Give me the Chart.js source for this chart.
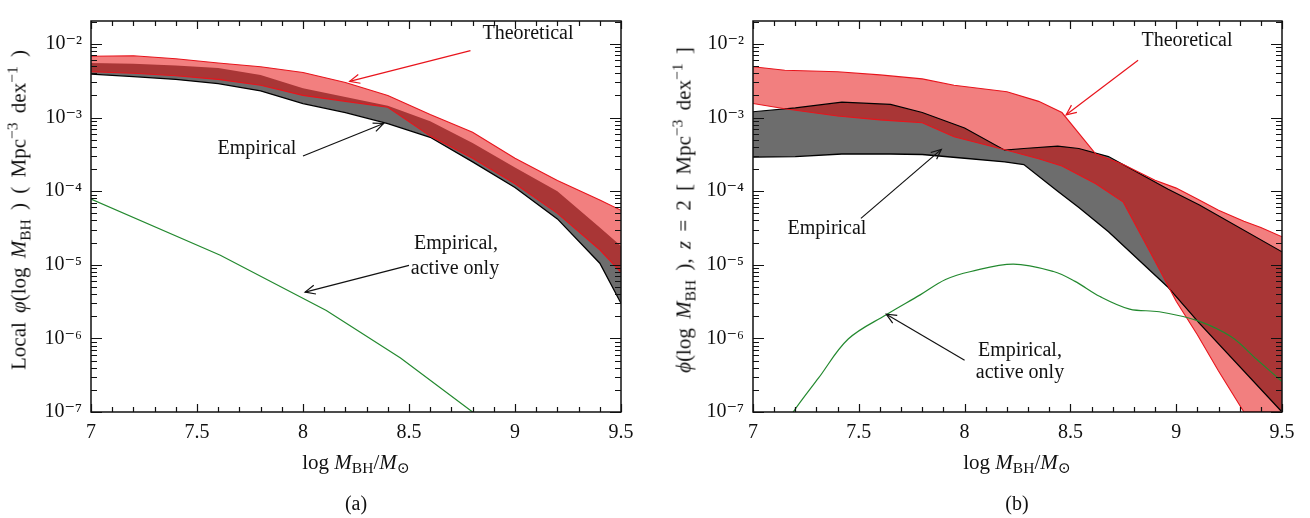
<!DOCTYPE html>
<html><head><meta charset="utf-8">
<script src="https://cdn.jsdelivr.net/npm/chart.js@4.4.0/dist/chart.umd.min.js"></script>
<style>
html,body{margin:0;padding:0;background:#fff;}
body{width:1310px;height:518px;position:relative;overflow:hidden;font-family:"Liberation Serif","DejaVu Serif",serif;color:#111;}
canvas{position:absolute;top:0;}
#ca{left:0;} #cb{left:660px;}
.t{position:absolute;white-space:nowrap;font-size:20px;line-height:1;transform:translate(-50%,-50%);}
.ttl{font-size:21px;word-spacing:4px;}
.rot{transform:translate(-50%,-50%) rotate(-90deg);}
sub{font-size:0.74em;vertical-align:-0.3em;line-height:0;}
sup{font-size:0.74em;vertical-align:0.5em;line-height:0;}
i{font-style:italic;}
</style></head>
<body>
<canvas id="ca" width="650" height="518"></canvas>
<canvas id="cb" width="650" height="518"></canvas>

<div class="t ttl rot" style="left:19px;top:210px;">Local <i>φ</i>(log <i>M</i><sub>BH</sub> ) ( Mpc<sup>−3</sup> dex<sup>−1</sup> )</div>
<div class="t" style="left:528px;top:32px;">Theoretical</div>
<div class="t" style="left:257px;top:147px;">Empirical</div>
<div class="t" style="left:456px;top:242px;">Empirical,</div>
<div class="t" style="left:455px;top:267px;">active only</div>
<div class="t ttl" style="left:356px;top:462px;word-spacing:0;">log <i>M</i><sub>BH</sub>/<i>M</i><sub>⊙</sub></div>
<div class="t" style="left:356px;top:503px;">(a)</div>

<div class="t ttl rot" style="left:684px;top:210px;"><i>ϕ</i>(log <i>M</i><sub>BH</sub> ), <i>z</i> = 2 [ Mpc<sup>−3</sup> dex<sup>−1</sup> ]</div>
<div class="t" style="left:1187px;top:39px;">Theoretical</div>
<div class="t" style="left:827px;top:227px;">Empirical</div>
<div class="t" style="left:1020px;top:349px;">Empirical,</div>
<div class="t" style="left:1020px;top:371px;">active only</div>
<div class="t ttl" style="left:1017px;top:462px;word-spacing:0;">log <i>M</i><sub>BH</sub>/<i>M</i><sub>⊙</sub></div>
<div class="t" style="left:1017px;top:503px;">(b)</div>

<script>
// ---------- tick labels ----------
const xTickLabels = ['7', '7.5', '8', '8.5', '9', '9.5'];
const yTickLabels = ['10⁻⁷', '10⁻⁶', '10⁻⁵', '10⁻⁴', '10⁻³', '10⁻²'];

// ---------- panel (a): local mass function ----------
const aX         = [7.0, 7.2, 7.4, 7.6, 7.8, 8.0, 8.2, 8.4, 8.6, 8.8, 9.0, 9.2, 9.4, 9.5];
const aTheoUpper = [6.8e-3, 6.9e-3, 6.3e-3, 5.5e-3, 4.9e-3, 4.1e-3, 3.0e-3, 2.0e-3, 1.1e-3, 6.3e-4, 2.8e-4, 1.4e-4, 7.6e-5, 5.5e-5];
const aTheoLower = [4.2e-3, 4.0e-3, 3.7e-3, 3.3e-3, 2.75e-3, 2.0e-3, 1.66e-3, 1.38e-3, 5.6e-4, 2.8e-4, 1.26e-4, 5.0e-5, 1.6e-5, 7.9e-6];
const aEmpUpper  = [5.5e-3, 5.4e-3, 5.1e-3, 4.7e-3, 3.8e-3, 2.5e-3, 1.9e-3, 1.45e-3, 8.9e-4, 4.5e-4, 2.1e-4, 1.0e-4, 3.2e-5, 1.8e-5];
const aEmpLower  = [3.9e-3, 3.6e-3, 3.3e-3, 2.9e-3, 2.3e-3, 1.55e-3, 1.17e-3, 8.3e-4, 5.4e-4, 2.5e-4, 1.12e-4, 4.2e-5, 1.05e-5, 3.0e-6];
const aActiveX   = [7.0, 7.61, 8.11, 8.46, 8.8, 9.0];
const aActive    = [7.8e-5, 1.35e-5, 2.4e-6, 5.4e-7, 1.0e-7, 3.5e-8];

// ---------- panel (b): z = 2 mass function ----------
const bTheoX     = [7.0, 7.15, 7.4, 7.6, 7.8, 7.95, 8.2, 8.35, 8.46, 8.62, 8.75, 8.9, 9.0, 9.1, 9.2, 9.32, 9.4, 9.5];
const bTheoUpper = [4.9e-3, 4.4e-3, 4.2e-3, 3.8e-3, 3.35e-3, 2.75e-3, 2.24e-3, 1.66e-3, 1.17e-3, 3.2e-4, 2.3e-4, 1.41e-4, 1.1e-4, 7.8e-5, 5.5e-5, 3.9e-5, 3.2e-5, 2.4e-5];
const bTheoLower = [1.55e-3, 1.32e-3, 1.05e-3, 9.3e-4, 8.5e-4, 5.5e-4, 3.6e-4, 2.75e-4, 2.2e-4, 1.26e-4, 7.1e-5, 1.12e-5, 3.2e-6, 1.12e-6, 3.6e-7, 1.0e-7, 1.0e-7, 1.0e-7];
const bEmpX      = [7.0, 7.2, 7.42, 7.65, 7.8, 8.0, 8.19, 8.28, 8.44, 8.54, 8.68, 8.96, 9.11, 9.5];
const bEmpUpper  = [1.2e-3, 1.35e-3, 1.62e-3, 1.51e-3, 1.17e-3, 7.2e-4, 3.6e-4, 3.8e-4, 4.1e-4, 3.8e-4, 2.95e-4, 1.07e-4, 6.5e-5, 1.5e-5];
const bEmpLower  = [2.9e-4, 2.95e-4, 3.2e-4, 3.2e-4, 3.15e-4, 2.8e-4, 2.5e-4, 2.3e-4, 1.0e-4, 6.0e-5, 2.8e-5, 5.0e-6, 1.6e-6, 1.0e-7];
const bActiveX   = [7.15, 7.19, 7.31, 7.45, 7.63, 7.79, 7.91, 8.03, 8.23, 8.42, 8.52, 8.64, 8.78, 8.92, 9.10, 9.26, 9.38, 9.5];
const bActive    = [6.3e-8, 1.0e-7, 2.9e-7, 9.8e-7, 2.1e-6, 3.9e-6, 6.3e-6, 8.1e-6, 1.02e-5, 8.1e-6, 6.0e-6, 3.7e-6, 2.5e-6, 2.3e-6, 1.74e-6, 1.05e-6, 5.2e-7, 2.6e-7];

// ---------- annotation arrows (data coordinates) ----------
const aArrows = [
  {from: [8.79, 8.1e-3], to: [8.22, 3.1e-3], color: '#e8141c'},
  {from: [8.00, 3.0e-4], to: [8.38, 8.3e-4], color: '#111'},
  {from: [8.50, 9.8e-6], to: [8.01, 4.25e-6], color: '#111'}
];
const bArrows = [
  {from: [8.82, 6.0e-3], to: [8.48, 1.09e-3], color: '#e8141c'},
  {from: [7.51, 4.27e-5], to: [7.89, 3.7e-4], color: '#111'},
  {from: [8.00, 5.05e-7], to: [7.63, 2.13e-6], color: '#111'}
];

const FONT = '"Liberation Serif","DejaVu Serif",serif';
const RED = '#e8141c', REDFILL = 'rgba(229,0,0,0.5)', GRAY = '#6d6d6d', GREEN = '#23892f';

const pts = (xs, ys) => xs.map((x, i) => ({x: x, y: ys[i]}));

function drawArrow(ctx, x0, y0, x1, y1, color) {
  ctx.strokeStyle = color; ctx.lineWidth = 1.2;
  ctx.beginPath(); ctx.moveTo(x0, y0); ctx.lineTo(x1, y1); ctx.stroke();
  const ang = Math.atan2(y1 - y0, x1 - x0), L = 11, w = 0.42;
  ctx.beginPath();
  ctx.moveTo(x1 - L * Math.cos(ang - w), y1 - L * Math.sin(ang - w));
  ctx.lineTo(x1, y1);
  ctx.lineTo(x1 - L * Math.cos(ang + w), y1 - L * Math.sin(ang + w));
  ctx.stroke();
}

const frameTicks = {
  id: 'frameTicks',
  afterDraw(chart) {
    const {ctx, chartArea: a, scales: {x, y}} = chart;
    ctx.save();
    ctx.strokeStyle = '#111'; ctx.lineWidth = 1.2;
    ctx.beginPath();
    for (let i = 0; i <= 25; i++) {
      const px = Math.round(x.getPixelForValue(7 + i * 0.1)) + 0.5;
      const L = (i % 5 === 0) ? 8 : 5;
      ctx.moveTo(px, a.bottom); ctx.lineTo(px, a.bottom - L);
      ctx.moveTo(px, a.top); ctx.lineTo(px, a.top + L);
    }
    for (let e = -7; e <= -2; e++) {
      for (let k = 1; k <= 9; k++) {
        const v = k * Math.pow(10, e);
        if (v > y.max) break;
        const py = Math.round(y.getPixelForValue(v)) + 0.5;
        const L = (k === 1) ? 11 : 6;
        ctx.moveTo(a.left, py); ctx.lineTo(a.left + L, py);
        ctx.moveTo(a.right, py); ctx.lineTo(a.right - L, py);
      }
    }
    ctx.stroke();
    ctx.lineWidth = 1.5;
    ctx.strokeRect(a.left, a.top, a.right - a.left, a.bottom - a.top);
    const arrows = chart.options.plugins.frameTicks.arrows || [];
    arrows.forEach(ar => {
      drawArrow(ctx, x.getPixelForValue(ar.from[0]), y.getPixelForValue(ar.from[1]),
                x.getPixelForValue(ar.to[0]), y.getPixelForValue(ar.to[1]), ar.color);
    });
    ctx.restore();
  }
};

function makePanel(id, yAxisWidth, padRight, sets, arrows) {
  const ds = [
    {label: 'Empirical, active only', data: sets.active, borderColor: GREEN, borderWidth: 1.2, tension: sets.tension, fill: false, order: 0},
    {label: 'Theoretical upper', data: sets.theoUp, borderColor: RED, borderWidth: 1.1, fill: false, order: 1},
    {label: 'Theoretical lower', data: sets.theoLo, borderColor: RED, borderWidth: 1.1, fill: {target: 1}, backgroundColor: REDFILL, order: 1},
    {label: 'Empirical upper', data: sets.empUp, borderColor: '#000', borderWidth: sets.empUpWidth, fill: false, order: 2},
    {label: 'Empirical lower', data: sets.empLo, borderColor: '#000', borderWidth: 1.3, fill: {target: 3}, backgroundColor: GRAY, order: 2}
  ];
  ds.forEach(d => { d.pointRadius = 0; d.showLine = true; if (d.tension === undefined) d.tension = 0; });
  return new Chart(document.getElementById(id), {
    type: 'line',
    data: {datasets: ds},
    options: {
      responsive: false, animation: false, devicePixelRatio: 1,
      layout: {padding: {top: 4, right: padRight, left: 0, bottom: 0}},
      plugins: {
        legend: {display: false}, tooltip: {enabled: false},
        filler: {drawTime: 'beforeDatasetsDraw'},
        frameTicks: {arrows: arrows}
      },
      scales: {
        x: {
          type: 'linear', min: 7, max: 9.5,
          grid: {display: false, drawTicks: false}, border: {display: false},
          ticks: {stepSize: 0.5, padding: 9, color: '#111', font: {family: FONT, size: 20},
                  callback: v => xTickLabels[Math.round((v - 7) / 0.5)] || ''},
          afterFit: s => { s.height = 106; }
        },
        y: {
          type: 'logarithmic', min: 1e-7, max: 0.0205,
          grid: {display: false, drawTicks: false}, border: {display: false},
          ticks: {autoSkip: false, padding: 9, color: '#111', font: {family: FONT, size: 20},
                  callback: v => {
                    const e = Math.log10(v), r = Math.round(e);
                    return Math.abs(e - r) < 1e-6 ? (yTickLabels[r + 7] || '') : '';
                  }},
          afterFit: s => { s.width = yAxisWidth; }
        }
      }
    },
    plugins: [frameTicks]
  });
}

makePanel('ca', 91, 29, {
  active: pts(aActiveX, aActive), tension: 0,
  theoUp: pts(aX, aTheoUpper), theoLo: pts(aX, aTheoLower),
  empUp: pts(aX, aEmpUpper), empLo: pts(aX, aEmpLower), empUpWidth: 0
}, aArrows);

makePanel('cb', 93, 28, {
  active: pts(bActiveX, bActive), tension: 0.35,
  theoUp: pts(bTheoX, bTheoUpper), theoLo: pts(bTheoX, bTheoLower),
  empUp: pts(bEmpX, bEmpUpper), empLo: pts(bEmpX, bEmpLower), empUpWidth: 1.2
}, bArrows);
</script>
</body></html>
